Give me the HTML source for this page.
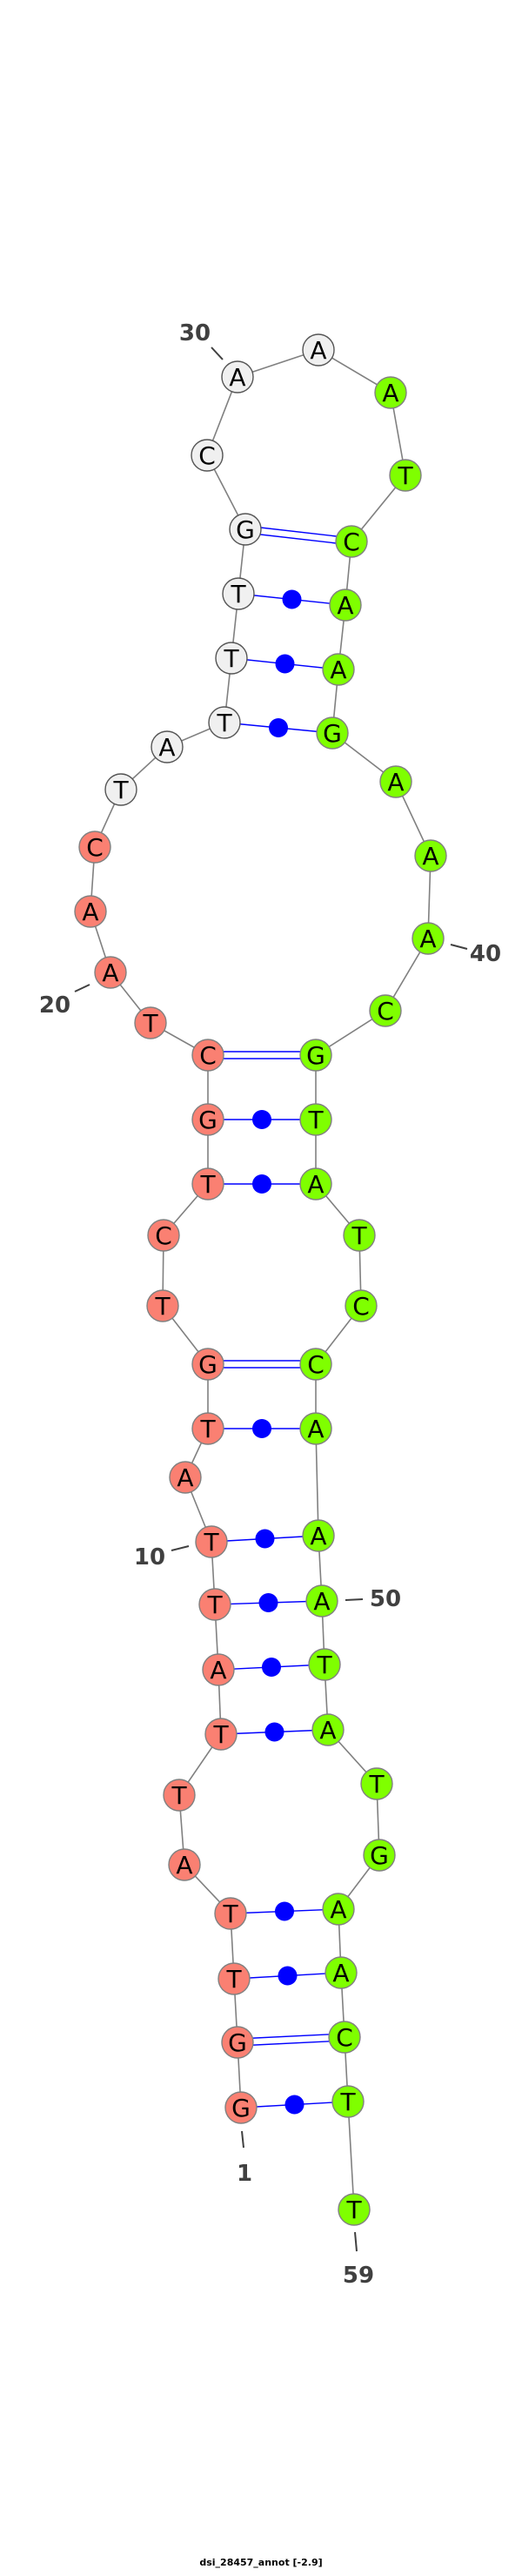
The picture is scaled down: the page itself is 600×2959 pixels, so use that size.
<!DOCTYPE html>
<html><head><meta charset="utf-8"><style>
html,body{margin:0;padding:0;background:#fff;}
svg{display:block;}
.bb{fill:none;stroke:#808080;stroke-width:1.6;}
.pr{stroke:#0000ff;stroke-width:1.4;}
.d{fill:#0000ff;}
.s{fill:#fa8072;stroke:#808080;stroke-width:1.4;}
.g{fill:#7fff00;stroke:#808080;stroke-width:1.4;}
.w{fill:#f0f0f0;stroke:#555;stroke-width:1.4;}
.t text,.t{font-family:"DejaVu Sans","Liberation Sans",sans-serif;font-size:28px;fill:#000;text-anchor:middle;}
.l{font-family:"DejaVu Sans","Liberation Sans",sans-serif;font-size:26px;font-weight:bold;fill:#404040;text-anchor:middle;}
.tk{stroke:#404040;stroke-width:2;}
</style></head><body>
<svg width="600" height="2959" viewBox="0 0 600 2959" xmlns="http://www.w3.org/2000/svg">
<polyline class="bb" points="277,2421 273,2346 269,2273 265,2198 212,2142 206,2062 254,1992 251,1918 247,1843 243,1771 213,1697 239,1641 239,1567 187,1500 188,1419 239,1360 239,1286 239,1212 173,1175 127,1117 104,1047 109,973 139,907 192,858 258,830 266,756 274,682 282,608 238,523 273,433 366,402 449,451 466,546 404,622 397,695 389,769 382,842 455,898 495,983 492,1078 443,1161 363,1212 363,1286 363,1360 413,1419 415,1500 363,1567 363,1641 366,1764 370,1839 373,1912 377,1987 433,2049 436,2131 389,2193 392,2266 396,2340 400,2414 407,2538"/>
<!-- pairs -->
<line class="pr" x1="282" y1="604" x2="404" y2="618"/><line class="pr" x1="282" y1="612" x2="404" y2="626"/>
<line class="pr" x1="274" y1="682" x2="397" y2="695"/><circle class="d" cx="335.5" cy="688.5" r="11"/>
<line class="pr" x1="266" y1="756" x2="389" y2="769"/><circle class="d" cx="327.5" cy="762.5" r="11"/>
<line class="pr" x1="258" y1="830" x2="382" y2="842"/><circle class="d" cx="320" cy="836" r="11"/>
<line class="pr" x1="239" y1="1208" x2="363" y2="1208"/><line class="pr" x1="239" y1="1216" x2="363" y2="1216"/>
<line class="pr" x1="239" y1="1286" x2="363" y2="1286"/><circle class="d" cx="301" cy="1286" r="11"/>
<line class="pr" x1="239" y1="1360" x2="363" y2="1360"/><circle class="d" cx="301" cy="1360" r="11"/>
<line class="pr" x1="239" y1="1563" x2="363" y2="1563"/><line class="pr" x1="239" y1="1571" x2="363" y2="1571"/>
<line class="pr" x1="239" y1="1641" x2="363" y2="1641"/><circle class="d" cx="301" cy="1641" r="11"/>
<line class="pr" x1="243" y1="1771" x2="366" y2="1764"/><circle class="d" cx="304.5" cy="1767.5" r="11"/>
<line class="pr" x1="247" y1="1843" x2="370" y2="1839"/><circle class="d" cx="308.5" cy="1841" r="11"/>
<line class="pr" x1="251" y1="1918" x2="373" y2="1912"/><circle class="d" cx="312" cy="1915" r="11"/>
<line class="pr" x1="254" y1="1992" x2="377" y2="1987"/><circle class="d" cx="315.5" cy="1989.5" r="11"/>
<line class="pr" x1="265" y1="2198" x2="389" y2="2193"/><circle class="d" cx="327" cy="2195.5" r="11"/>
<line class="pr" x1="269" y1="2273" x2="392" y2="2266"/><circle class="d" cx="330.5" cy="2269.5" r="11"/>
<line class="pr" x1="273" y1="2342" x2="396" y2="2336"/><line class="pr" x1="273" y1="2350" x2="396" y2="2344"/>
<line class="pr" x1="277" y1="2421" x2="400" y2="2414"/><circle class="d" cx="338.5" cy="2417.5" r="11"/>
<!-- nodes -->
<g>
<circle class="s" cx="277" cy="2421" r="18"/><circle class="s" cx="273" cy="2346" r="18"/><circle class="s" cx="269" cy="2273" r="18"/><circle class="s" cx="265" cy="2198" r="18"/><circle class="s" cx="212" cy="2142" r="18"/><circle class="s" cx="206" cy="2062" r="18"/><circle class="s" cx="254" cy="1992" r="18"/><circle class="s" cx="251" cy="1918" r="18"/><circle class="s" cx="247" cy="1843" r="18"/><circle class="s" cx="243" cy="1771" r="18"/><circle class="s" cx="213" cy="1697" r="18"/><circle class="s" cx="239" cy="1641" r="18"/><circle class="s" cx="239" cy="1567" r="18"/><circle class="s" cx="187" cy="1500" r="18"/><circle class="s" cx="188" cy="1419" r="18"/><circle class="s" cx="239" cy="1360" r="18"/><circle class="s" cx="239" cy="1286" r="18"/><circle class="s" cx="239" cy="1212" r="18"/><circle class="s" cx="173" cy="1175" r="18"/><circle class="s" cx="127" cy="1117" r="18"/><circle class="s" cx="104" cy="1047" r="18"/><circle class="s" cx="109" cy="973" r="18"/>
<circle class="w" cx="139" cy="907" r="18"/><circle class="w" cx="192" cy="858" r="18"/><circle class="w" cx="258" cy="830" r="18"/><circle class="w" cx="266" cy="756" r="18"/><circle class="w" cx="274" cy="682" r="18"/><circle class="w" cx="282" cy="608" r="18"/><circle class="w" cx="238" cy="523" r="18"/><circle class="w" cx="273" cy="433" r="18"/><circle class="w" cx="366" cy="402" r="18"/>
<circle class="g" cx="449" cy="451" r="18"/><circle class="g" cx="466" cy="546" r="18"/><circle class="g" cx="404" cy="622" r="18"/><circle class="g" cx="397" cy="695" r="18"/><circle class="g" cx="389" cy="769" r="18"/><circle class="g" cx="382" cy="842" r="18"/><circle class="g" cx="455" cy="898" r="18"/><circle class="g" cx="495" cy="983" r="18"/><circle class="g" cx="492" cy="1078" r="18"/><circle class="g" cx="443" cy="1161" r="18"/><circle class="g" cx="363" cy="1212" r="18"/><circle class="g" cx="363" cy="1286" r="18"/><circle class="g" cx="363" cy="1360" r="18"/><circle class="g" cx="413" cy="1419" r="18"/><circle class="g" cx="415" cy="1500" r="18"/><circle class="g" cx="363" cy="1567" r="18"/><circle class="g" cx="363" cy="1641" r="18"/><circle class="g" cx="366" cy="1764" r="18"/><circle class="g" cx="370" cy="1839" r="18"/><circle class="g" cx="373" cy="1912" r="18"/><circle class="g" cx="377" cy="1987" r="18"/><circle class="g" cx="433" cy="2049" r="18"/><circle class="g" cx="436" cy="2131" r="18"/><circle class="g" cx="389" cy="2193" r="18"/><circle class="g" cx="392" cy="2266" r="18"/><circle class="g" cx="396" cy="2340" r="18"/><circle class="g" cx="400" cy="2414" r="18"/><circle class="g" cx="407" cy="2538" r="18"/>
</g>
<g class="t">
<text x="277" y="2431">G</text><text x="273" y="2356">G</text><text x="269" y="2283">T</text><text x="265" y="2208">T</text><text x="212" y="2152">A</text><text x="206" y="2072">T</text><text x="254" y="2002">T</text><text x="251" y="1928">A</text><text x="247" y="1853">T</text><text x="243" y="1781">T</text><text x="213" y="1707">A</text><text x="239" y="1651">T</text><text x="239" y="1577">G</text><text x="187" y="1510">T</text><text x="188" y="1429">C</text><text x="239" y="1370">T</text><text x="239" y="1296">G</text><text x="239" y="1222">C</text><text x="173" y="1185">T</text><text x="127" y="1127">A</text><text x="104" y="1057">A</text><text x="109" y="983">C</text>
<text x="139" y="917">T</text><text x="192" y="868">A</text><text x="258" y="840">T</text><text x="266" y="766">T</text><text x="274" y="692">T</text><text x="282" y="618">G</text><text x="238" y="533">C</text><text x="273" y="443">A</text><text x="366" y="412">A</text>
<text x="449" y="461">A</text><text x="466" y="556">T</text><text x="404" y="632">C</text><text x="397" y="705">A</text><text x="389" y="779">A</text><text x="382" y="852">G</text><text x="455" y="908">A</text><text x="495" y="993">A</text><text x="492" y="1088">A</text><text x="443" y="1171">C</text><text x="363" y="1222">G</text><text x="363" y="1296">T</text><text x="363" y="1370">A</text><text x="413" y="1429">T</text><text x="415" y="1510">C</text><text x="363" y="1577">C</text><text x="363" y="1651">A</text><text x="366" y="1774">A</text><text x="370" y="1849">A</text><text x="373" y="1922">T</text><text x="377" y="1997">A</text><text x="433" y="2059">T</text><text x="436" y="2141">G</text><text x="389" y="2203">A</text><text x="392" y="2276">A</text><text x="396" y="2350">C</text><text x="400" y="2424">T</text><text x="407" y="2548">T</text>
</g>
<!-- labels -->
<line class="tk" x1="243" y1="399" x2="256" y2="413"/><text class="l" x="224" y="391">30</text>
<line class="tk" x1="86" y1="1139" x2="103" y2="1131"/><text class="l" x="63" y="1163">20</text>
<line class="tk" x1="518" y1="1085" x2="537" y2="1090"/><text class="l" x="558" y="1104">40</text>
<line class="tk" x1="197" y1="1781" x2="217" y2="1776"/><text class="l" x="172" y="1797">10</text>
<line class="tk" x1="397" y1="1838" x2="417" y2="1837"/><text class="l" x="443" y="1845">50</text>
<line class="tk" x1="278" y1="2448" x2="280" y2="2467"/><text class="l" x="281" y="2505">1</text>
<line class="tk" x1="408" y1="2564" x2="410" y2="2586"/><text class="l" x="412" y="2622">59</text>
<text x="300" y="2947" style="font-family:'DejaVu Sans','Liberation Sans',sans-serif;font-size:11px;font-weight:bold;text-anchor:middle;fill:#000">dsi_28457_annot [-2.9]</text>
</svg>
</body></html>
